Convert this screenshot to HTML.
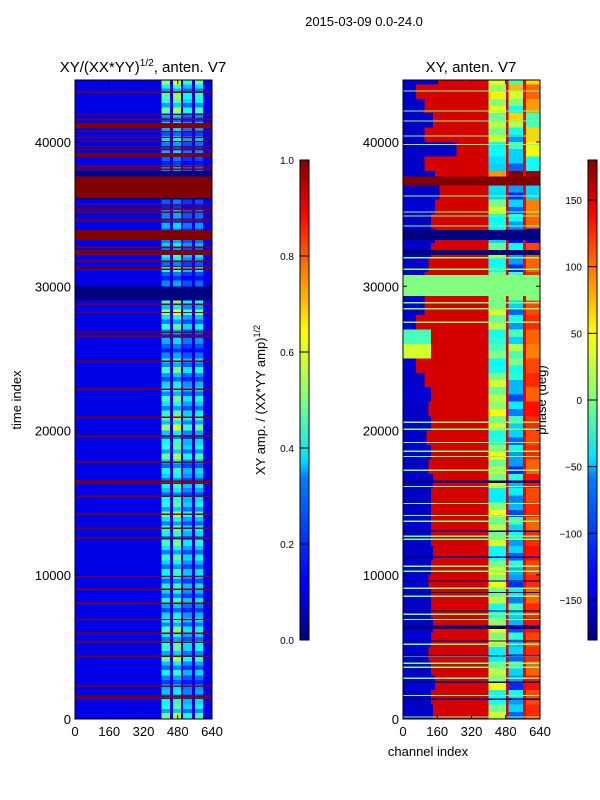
<!DOCTYPE html>
<html><head><meta charset="utf-8"><style>
html,body{margin:0;padding:0;background:#fff;}
svg{display:block;font-family:"Liberation Sans","DejaVu Sans",sans-serif;}
</style></head><body>
<svg id="fig" width="600" height="800" viewBox="0 0 600 800" xmlns="http://www.w3.org/2000/svg">
<defs>
<linearGradient id="jet" x1="0" y1="1" x2="0" y2="0">
<stop offset="0" stop-color="#000080"/><stop offset="0.11" stop-color="#0000ff"/>
<stop offset="0.125" stop-color="#0000ff"/><stop offset="0.34" stop-color="#0080ff"/>
<stop offset="0.375" stop-color="#00e0ff"/><stop offset="0.5" stop-color="#80ff80"/>
<stop offset="0.64" stop-color="#ffff00"/><stop offset="0.75" stop-color="#ff9000"/>
<stop offset="0.89" stop-color="#ff0000"/><stop offset="1" stop-color="#800000"/>
</linearGradient>
</defs>
<text x="364" y="26" font-size="13" text-anchor="middle">2015-03-09 0.0-24.0</text>
<text x="143" y="72" font-size="15" text-anchor="middle">XY/(XX*YY)<tspan font-size="10" dy="-6">1/2</tspan><tspan dy="6">, anten. V7</tspan></text>
<text x="471" y="72" font-size="15" text-anchor="middle">XY, anten. V7</text>
<text transform="translate(21,400) rotate(-90)" font-size="13" text-anchor="middle">time index</text>
<text x="428" y="756" font-size="13" text-anchor="middle">channel index</text>
<text transform="translate(265,400) rotate(-90)" font-size="13" text-anchor="middle">XY amp. / (XX*YY amp)<tspan font-size="9" dy="-5">1/2</tspan></text>
<text transform="translate(546,400) rotate(-90)" font-size="13" text-anchor="middle">phase (deg)</text>
<g id="left"></g>
<g id="right"></g>
<g id="axes"></g>
</svg>
<script>
// ---- data ----
var tMax = 44300;
var xTicks = [0,160,320,480,640];
var yTicks = [0,10000,20000,30000,40000];
var ampTicks = [0.0,0.2,0.4,0.6,0.8,1.0];
var phaseTicks = [-150,-100,-50,0,50,100,150];
// left: speckle amplitude per 1000-index block
var levelL = [0.42,0.38,0.26,0.38,0.42,0.42,0.38,0.34,0.34,0.38,0.34,0.42,0.38,0.42,0.42,0.38,0.34,0.38,0.42,0.38,0.46,0.42,0.38,0.34,0.38,0.26,0.26,0.42,0.46,0,0.22,0.38,0.34,0.26,0.26,0.26,0,0,0.22,0.3,0.3,0.34,0.42,0.46,0.46];
var groupFactorL = [1.1,1.25,0.9,1.0];
var redBandsL = [[36200,37600],[33200,33900],[32170,32510],[40970,41320],[38960,39240]];
var redLinesL = [43400,41870,41520,40690,40270,39990,39650,39440,38270,38060,36120,35630,35290,35080,34590,34450,32650,31680,31330,31130,28700,28140,26760,26480,24750,22810,20870,19550,17750,16430,16290,15390,14140,13170,12480,9840,8940,7970,6860,5890,5270,4300,2220,1530,1390];
// right: per block boundary channel, left phase, speckle phases
var bR = [140,130,150,130,120,130,140,130,130,120,130,140,130,130,130,130,140,120,130,110,130,120,130,100,60,130,130,60,100,100,100,120,130,150,130,150,170,150,100,250,100,140,100,60,160];
var leftPh = [-155,-155,-150,-155,-155,-150,-155,-155,-155,-150,-155,-155,-155,-150,-155,-155,-155,-155,-150,-155,-155,-155,-150,-155,-150,30,-20,-150,-155,-155,-155,-155,-155,-155,-155,-150,-155,-155,-155,-155,-155,-155,-155,-155,-150];
var phaseA = [30,-40,40,20,-50,30,40,-30,20,40,30,-40,30,20,40,-50,30,20,40,-30,30,40,20,30,-40,0,-30,20,30,0,30,-40,20,-60,-40,30,-60,170,-60,-40,30,20,40,50,40];
var phaseB = [-100,-80,-120,-60,-100,-70,-110,-60,-90,-120,-70,-100,-80,-60,-110,-90,-70,-120,-80,-100,-60,-90,-110,-70,-40,-20,-60,-80,-100,0,-60,-120,-80,-140,-80,-100,-120,170,-100,-60,-80,20,-40,30,-20];
var phaseC = [120,110,130,100,120,110,130,120,100,120,110,130,120,100,120,110,130,100,120,110,120,130,100,120,110,90,100,120,110,0,120,100,110,-150,100,90,-60,170,-40,40,60,-20,80,100,60];
var greenLinesR = [20520,20040,19130,18510,18160,17190,16080,14900,14070,13660,12620,12410,10540,10190,9010,8460,7210,6860,5130,4300,3810,3540,2770,1590,100,43490,42100,41410,40370,39790,36210,35100,34820,34130,31940,31130,28820,28400,27470];
var navyLinesR = [16450,12980,11160,9520,8730,7440,6400,5360,4320,2500,1320];
var navyBandsR = [[33200,33900],[32170,32510],[16350,16550],[6250,6450]];
var greenBandsR = [[29320,30780]];
var darkRedBandsR = [[37000,37600]];

// ---- helpers ----
function jet(v){v=Math.max(0,Math.min(1,v));
 function c(x){return Math.round(255*Math.max(0,Math.min(1,x)));}
 return 'rgb('+c(1.5-Math.abs(4*v-3))+','+c(1.5-Math.abs(4*v-2))+','+c(1.5-Math.abs(4*v-1))+')';}
function phC(p){return jet((p+180)/360);}
var NS='http://www.w3.org/2000/svg';
function mk(tag,attrs,parent){var e=document.createElementNS(NS,tag);for(var k in attrs)e.setAttribute(k,attrs[k]);parent.appendChild(e);return e;}
function panel(x0){return {x:function(ch){return x0+ch/640*137;},y:function(t){return 719-t/tMax*639;}};}
var PL=panel(75), PR=panel(403);
function cell(g,P,c0,c1,t0,t1,col,name){
 var y1=P.y(Math.min(t1,tMax)), y0=P.y(t0);
 var r=mk('rect',{x:P.x(c0),y:y1,width:P.x(c1)-P.x(c0),height:Math.max(0.8,y0-y1),fill:col,'shape-rendering':'crispEdges'},g);
 
 
}
// ---- left panel ----
var gL=document.getElementById('left');
var groupsL=[[405,444],[458,495],[505,547],[561,598]];
for(var i=0;i<levelL.length;i++){
 var t0=i*1000,t1=(i+1)*1000,lv=levelL[i];
 cell(gL,PL,0,640,t0,t1,lv===0?jet(0.0):jet(0.1),'amp-cell');
 if(lv>0){
  for(var g=0;g<groupsL.length;g++){
   var v=Math.min(0.65,lv*groupFactorL[g]*(i%2?0.9:1.05));
   cell(gL,PL,groupsL[g][0],groupsL[g][1],t0,t0+400,jet(v),'amp-cell');
   cell(gL,PL,groupsL[g][0],groupsL[g][1],t0+400,t0+700,jet(v*0.6),'amp-cell');
   cell(gL,PL,groupsL[g][0],groupsL[g][1],t0+700,t1,jet(v*0.85),'amp-cell');
  }
 }
}
redBandsL.forEach(function(b){cell(gL,PL,0,640,b[0],b[1],jet(1),'amp-red-band');});
redLinesL.forEach(function(t){cell(gL,PL,0,640,t,t+90,jet(1),'amp-red-line');});
// ---- right panel ----
var gR=document.getElementById('right');
for(var i=0;i<bR.length;i++){
 var t0=i*1000,t1=(i+1)*1000;
 cell(gR,PR,0,bR[i],t0,t1,phC(leftPh[i]),'phase-cell');
 cell(gR,PR,bR[i],400,t0,t1,phC(150),'phase-cell');
 cell(gR,PR,400,480,t0,t0+500,phC(phaseA[i]),'phase-cell');
 cell(gR,PR,400,480,t0+500,t1,phC(phaseA[i]*0.6-20),'phase-cell');
 cell(gR,PR,480,492,t0,t1,phC(150),'phase-cell');
 cell(gR,PR,492,560,t0,t0+500,phC(phaseB[i]),'phase-cell');
 cell(gR,PR,492,560,t0+500,t1,phC(phaseB[i]+40),'phase-cell');
 cell(gR,PR,560,575,t0,t1,phC(140),'phase-cell');
 cell(gR,PR,575,640,t0,t1,phC(phaseC[i]),'phase-cell');
}
greenBandsR.forEach(function(b){cell(gR,PR,0,640,b[0],b[1],phC(0),'phase-green-band');});
navyBandsR.forEach(function(b){cell(gR,PR,0,640,b[0],b[1],phC(-180),'phase-navy-band');});
darkRedBandsR.forEach(function(b){cell(gR,PR,0,640,b[0],b[1],phC(180),'phase-darkred-band');});
greenLinesR.forEach(function(t){cell(gR,PR,0,640,t,t+90,phC(0),'phase-green-line');});
navyLinesR.forEach(function(t){cell(gR,PR,0,640,t,t+90,phC(-180),'phase-navy-line');});
// ---- axes ----
var gA=document.getElementById('axes');
[[75,PL,'left'],[403,PR,'right']].forEach(function(a){
 var x0=a[0],P=a[1];
 var fr=mk('rect',{x:x0,y:80,width:137,height:639,fill:'none',stroke:'#000','stroke-width':1},gA);
 
 
 xTicks.forEach(function(c){var x=P.x(c);
  mk('line',{x1:x,y1:719,x2:x,y2:715,stroke:'#000'},gA);mk('line',{x1:x,y1:80,x2:x,y2:84,stroke:'#000'},gA);
  var t=mk('text',{x:x,y:736,'font-size':13,'text-anchor':'middle'},gA);t.textContent=c;
  
  
 });
 yTicks.forEach(function(v){var y=P.y(v);
  mk('line',{x1:x0,y1:y,x2:x0+4,y2:y,stroke:'#000'},gA);mk('line',{x1:x0+137,y1:y,x2:x0+133,y2:y,stroke:'#000'},gA);
  var t=mk('text',{x:x0-4,y:y+5,'font-size':13,'text-anchor':'end'},gA);t.textContent=v;
  
  
 });
});
function cbar(x0,ticks,lo,hi,name){
 var r=mk('rect',{x:x0,y:160,width:9,height:480,fill:'url(#jet)',stroke:'#000','stroke-width':1},gA);
 
 
 ticks.forEach(function(v){var y=640-(v-lo)/(hi-lo)*480;
  mk('line',{x1:x0,y1:y,x2:x0+9,y2:y,stroke:'#000'},gA);
  var t=mk('text',{x:x0-6,y:y+4,'font-size':10,'text-anchor':'end'},gA);
  t.textContent=(lo===0?v.toFixed(1):(v<0?'\u2212'+(-v):v));
  
  
 });
}
cbar(300,ampTicks,0,1,'amplitude-colorbar');
cbar(588,phaseTicks,-180,180,'phase-colorbar');
</script>
</body></html>
